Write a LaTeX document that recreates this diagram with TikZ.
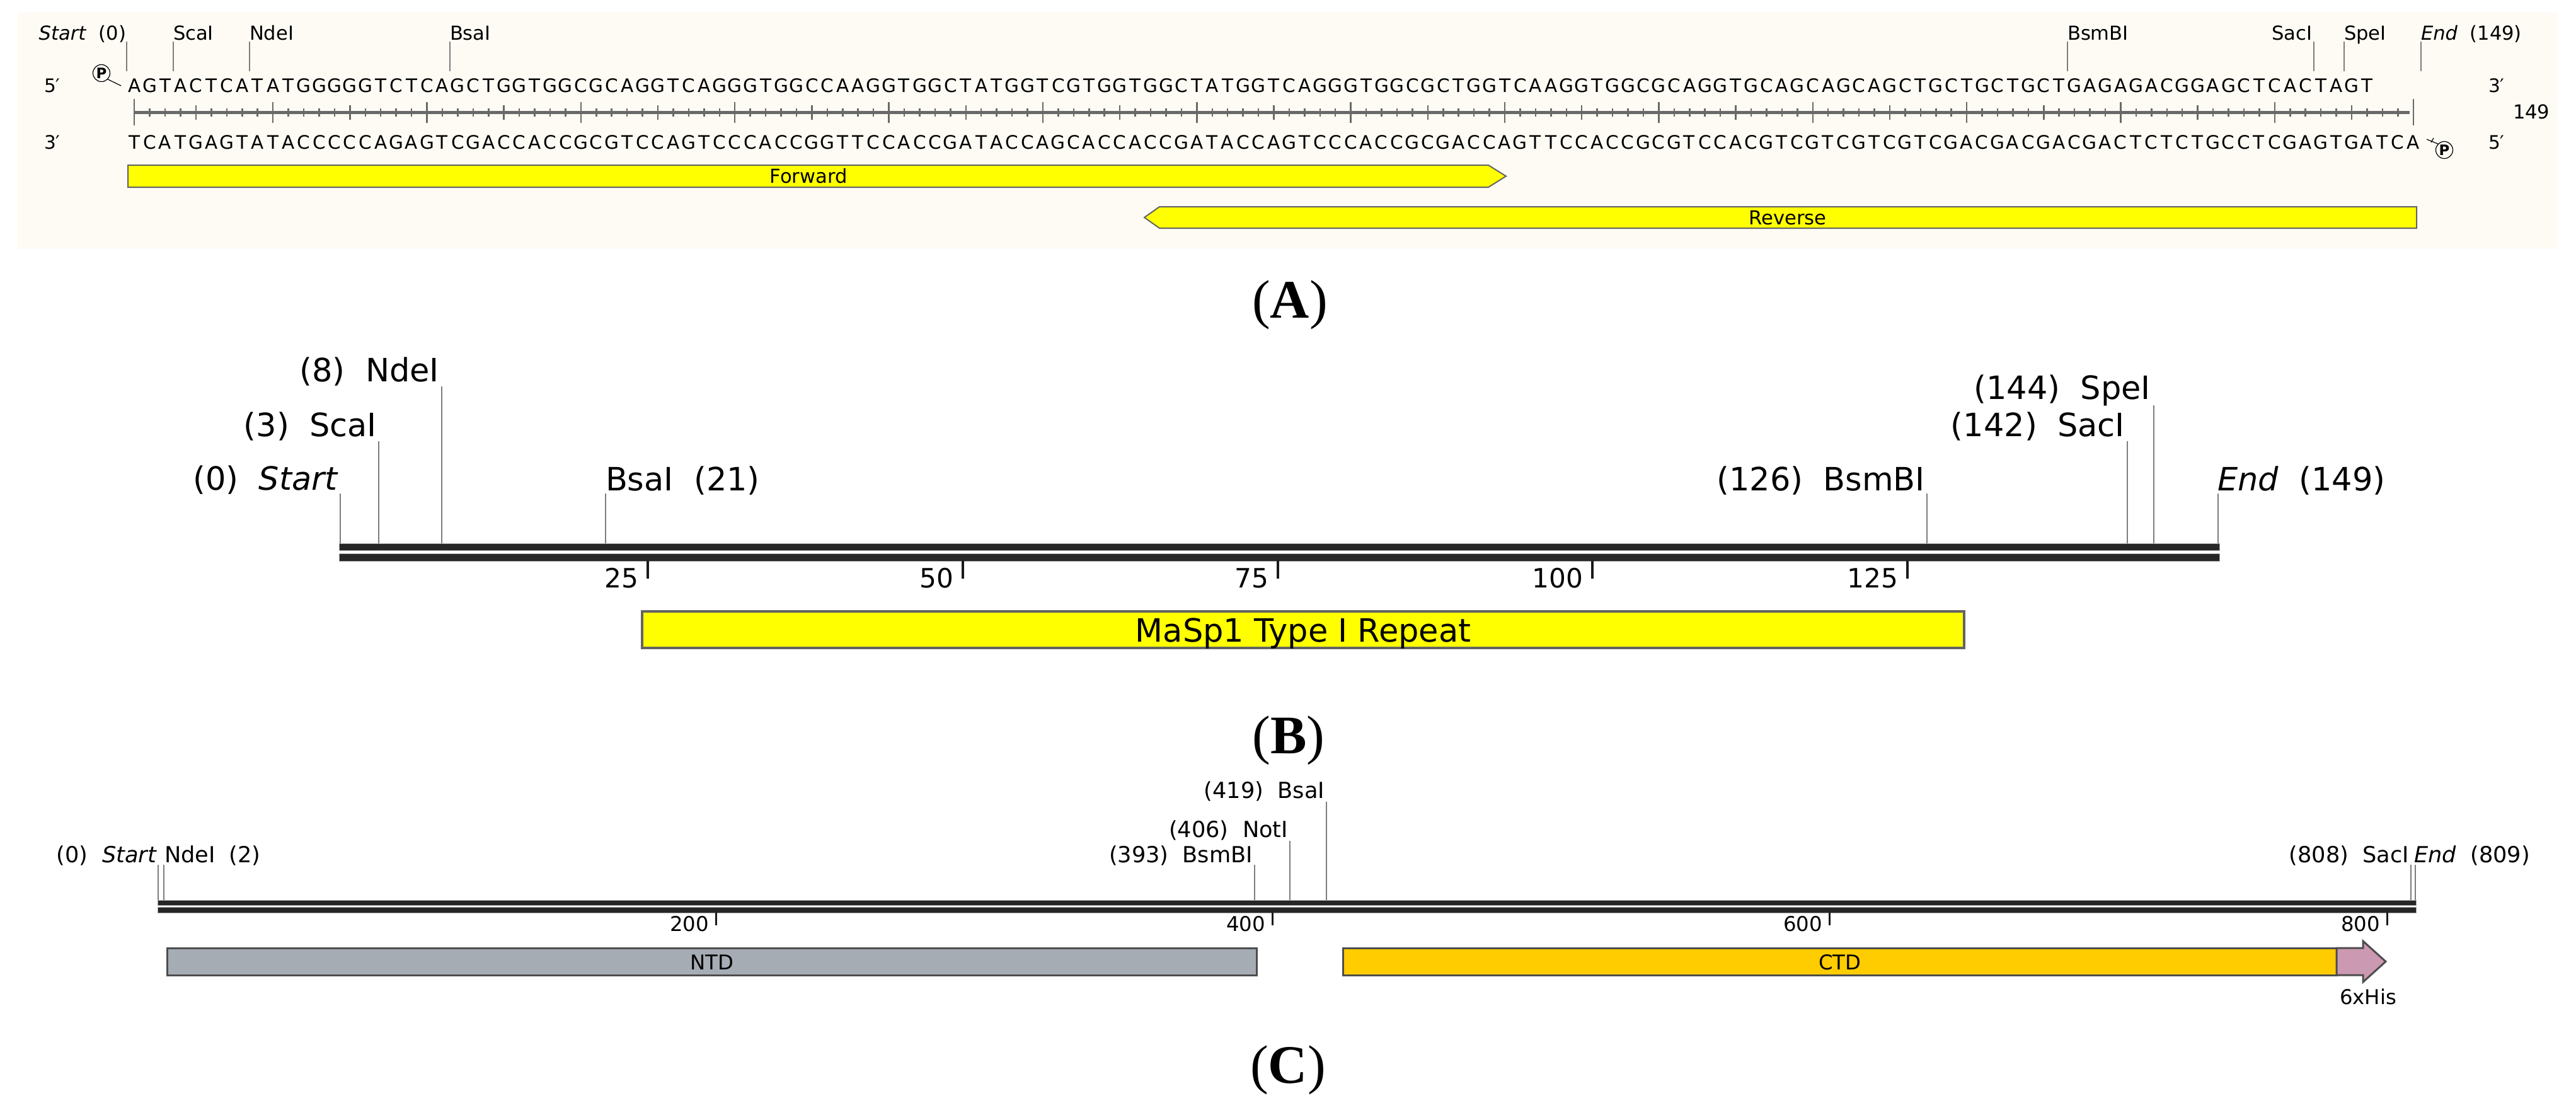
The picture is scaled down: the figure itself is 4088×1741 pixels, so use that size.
\documentclass[tikz,border=0pt]{standalone}
\usepackage{fontspec}
\setmainfont{DejaVu Sans}
\newfontfamily\capserif{Liberation Serif}
\definecolor{bgA}{RGB}{253,251,244}
\definecolor{rulegray}{RGB}{105,105,105}
\definecolor{sitegray}{RGB}{125,125,125}
\definecolor{bbone}{RGB}{38,38,38}
\definecolor{ntdgray}{RGB}{166,172,179}
\definecolor{ctdgold}{RGB}{255,204,0}
\definecolor{hispink}{RGB}{204,153,178}
\definecolor{boxedge}{RGB}{100,100,100}
\definecolor{darkedge}{RGB}{77,77,77}
\definecolor{featyellow}{RGB}{255,255,0}
\def\spreadseq#1{\ifx#1\relax\else\makebox[2.4436mm][c]{#1}\expandafter\spreadseq\fi}
\begin{document}
\begin{tikzpicture}[x=0.1mm,y=-0.1mm,
  every node/.style={inner sep=0pt, outer sep=0pt},
  fA/.style={font=\fontsize{8.7}{10}\selectfont},
  fSeq/.style={font=\fontsize{8.4}{10}\selectfont},
  fB/.style={font=\fontsize{14.5}{17}\selectfont},
  fBt/.style={font=\fontsize{12}{14}\selectfont},
  fC/.style={font=\fontsize{10}{12}\selectfont},
  fCt/.style={font=\fontsize{9.2}{11}\selectfont},
  siteline/.style={draw=sitegray, line width=0.16mm},
  featbox/.style={fill=featyellow, draw=boxedge, line width=0.2mm},
  bbar/.style={fill=bbone, draw=gray!70, line width=0.08mm},
  bigtick/.style={draw=black!90, line width=0.4mm},
  midtick/.style={draw=black!90, line width=0.3mm},
  plabel/.style={font=\capserif\fontsize{24.5}{28}\selectfont, anchor=base},
  pcirc/.style={circle, draw, line width=0.12mm, minimum size=2.7mm, font=\bfseries\fontsize{6.5}{7}\selectfont},
]
\useasboundingbox (0,0) rectangle (4088,1741);

% ================= Panel A =================
\fill[bgA] (28,20) rectangle (4059,395);

% site labels
\node[fA, anchor=base east] (aStart) at (200,63) {\textit{Start}\ \ (0)};
\node[fA, anchor=base west] (aSca) at (275,63) {ScaI};
\node[fA, anchor=base west] (aNde) at (396,63) {NdeI};
\node[fA, anchor=base west] (aBsa) at (714,63) {BsaI};
\node[fA, anchor=base west] (aBsm) at (3281,63) {BsmBI};
\node[fA, anchor=base east] (aSac) at (3669,63) {SacI};
\node[fA, anchor=base west] (aSpe) at (3720,63) {SpeI};
\node[fA, anchor=base west] (aEnd) at (3842,63) {\textit{End}\ \ (149)};
\foreach \x in {201,275,396,714,3281,3672,3720,3842}{
  \draw[siteline] (\x,66) -- (\x,113);
}

% sequences
\node[fSeq, anchor=base west] (seqtop) at (201,146) {\spreadseq AGTACTCATATGGGGGTCTCAGCTGGTGGCGCAGGTCAGGGTGGCCAAGGTGGCTATGGTCGTGGTGGCTATGGTCAGGGTGGCGCTGGTCAAGGTGGCGCAGGTGCAGCAGCAGCTGCTGCTGCTGAGAGACGGAGCTCACTAGT\relax};
\node[fSeq, anchor=base west] (seqbot) at (201,236) {\spreadseq TCATGAGTATACCCCCAGAGTCGACCACCGCGTCCAGTCCCACCGGTTCCACCGATACCAGCACCACCGATACCAGTCCCACCGCGACCAGTTCCACCGCGTCCACGTCGTCGTCGTCGACGACGACGACTCTCTGCCTCGAGTGATCA\relax};
\node[fSeq, anchor=base west] (l5a) at (70,146) {5′};
\node[fSeq, anchor=base west] (l3a) at (70,236) {3′};
\node[fSeq, anchor=base west] (r3a) at (3949,146) {3′};
\node[fSeq, anchor=base west] (r5a) at (3949,236) {5′};
\node[fA, anchor=base west] (n149) at (3988,188) {149};

% phosphate marks
\node[pcirc] (p5) at (161,116) {P};
\draw[line width=0.12mm] (p5.south east) -- (192,136);
\node[pcirc] (p3) at (3879,238) {P};
\draw[line width=0.12mm] (p3.north west) -- (3851,221);
\draw[line width=0.12mm] (3858,226) -- (3862,219);

% ruler
\draw[rulegray, line width=0.5mm] (213.2,178) -- (3824.4,178);
\foreach \n in {1,...,149}{
  \pgfmathsetmacro\hl{ifthenelse(or(\n==1,\n==149),21,ifthenelse(mod(\n,10)==0,16.5,ifthenelse(mod(\n,5)==0,11.5,6.5)))}
  \pgfmathsetmacro\xx{201+24.436*(\n-0.5)}
  \draw[rulegray, line width=0.25mm] (\xx,178-\hl) -- (\xx,178+\hl);
}

% primers
\draw[featbox] (203,262) -- (2362,262) -- (2390,279.5) -- (2362,297) -- (203,297) -- cycle;
\node[fA, anchor=base] (fwd) at (1283,290) {Forward};
\draw[featbox] (1840,328) -- (3835,328) -- (3835,362) -- (1840,362) -- (1816,345) -- cycle;
\node[fA, anchor=base] (rev) at (2837,356) {Reverse};

\node[plabel] (labA) at (2047,504) {(\textbf{A})};

% ================= Panel B =================
\draw[bbar] (538,862) rectangle (3522,873);
\draw[bbar] (538,878) rectangle (3522,890);
\foreach \x/\yt in {540/783,601/700,701/613,961/783,3058/783,3376/700,3418/643,3520/783}{
  \draw[siteline] (\x,\yt) -- (\x,862);
}
\node[fB, anchor=base east] (bStart) at (537,777) {(0)\ \ \textit{Start}};
\node[fB, anchor=base east] (bSca) at (598,692) {(3)\ \ ScaI};
\node[fB, anchor=base east] (bNde) at (697,605) {(8)\ \ NdeI};
\node[fB, anchor=base west] (bBsa) at (961,778) {BsaI\ \ (21)};
\node[fB, anchor=base east] (bBsm) at (3055,778) {(126)\ \ BsmBI};
\node[fB, anchor=base east] (bSac) at (3372,692) {(142)\ \ SacI};
\node[fB, anchor=base east] (bSpe) at (3413,633) {(144)\ \ SpeI};
\node[fB, anchor=base west] (bEnd) at (3519,778) {\textit{End}\ \ (149)};
\foreach \x/\l in {1028/25,1528/50,2028/75,2527/100,3027/125}{
  \draw[bigtick] (\x,890) -- (\x,918);
  \node[fBt, anchor=base east] at (\x-15,932) {\l};
}
\draw[fill=featyellow, draw=boxedge, line width=0.35mm] (1019,970) rectangle (3117,1028);
\node[fB, anchor=base] (rep) at (2068,1018) {MaSp1 Type I Repeat};

\node[plabel] (labB) at (2045,1195) {(\textbf{B})};

% ================= Panel C =================
\draw[bbar] (250,1428) rectangle (3834,1436);
\draw[bbar] (250,1439) rectangle (3834,1448);
\foreach \x/\yt in {251/1372,260/1372,1991/1372,2047/1334,2105/1272,3826/1372,3833/1372}{
  \draw[siteline] (\x,\yt) -- (\x,1428);
}
\node[fC, anchor=base east] (cStart) at (249,1368) {(0)\ \ \textit{Start}};
\node[fC, anchor=base west] (cNde) at (261,1368) {NdeI\ \ (2)};
\node[fC, anchor=base east] (cBsm) at (1988,1368) {(393)\ \ BsmBI};
\node[fC, anchor=base east] (cNot) at (2044,1328) {(406)\ \ NotI};
\node[fC, anchor=base east] (cBsa) at (2102,1266) {(419)\ \ BsaI};
\node[fC, anchor=base east] (cSac) at (3823,1368) {(808)\ \ SacI};
\node[fC, anchor=base west] (cEnd) at (3831,1368) {\textit{End}\ \ (809)};
\foreach \x/\l in {1136/200,2019/400,2903/600,3788/800}{
  \draw[midtick] (\x,1448) -- (\x,1468);
  \node[fCt, anchor=base east] at (\x-11,1477) {\l};
}
\draw[fill=ntdgray, draw=darkedge, line width=0.3mm] (265,1504) rectangle (1994,1547);
\node[fCt, anchor=base] (ntd) at (1130,1538) {NTD};
\draw[fill=ctdgold, draw=darkedge, line width=0.3mm] (2131,1504) rectangle (3708,1547);
\node[fCt, anchor=base] (ctd) at (2920,1538) {CTD};
\draw[fill=hispink, draw=darkedge, line width=0.3mm] (3708,1504) -- (3750,1504) -- (3750,1493) -- (3786,1525.5) -- (3750,1558) -- (3750,1547) -- (3708,1547) -- cycle;
\node[fCt, anchor=base] (his) at (3758,1593) {6xHis};

\node[plabel] (labC) at (2044,1718) {(\textbf{C})};
\end{tikzpicture}
\end{document}
